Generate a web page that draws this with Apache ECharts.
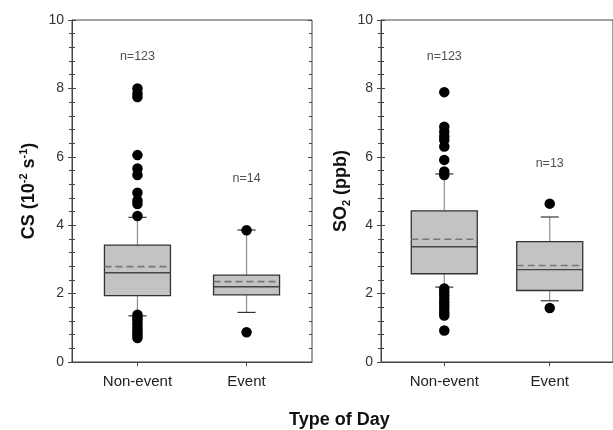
<!DOCTYPE html>
<html>
<head>
<meta charset="utf-8">
<script src="https://cdn.jsdelivr.net/npm/echarts@6.0.0/dist/echarts.min.js"></script>
<style>
  html, body { margin: 0; padding: 0; background: #fff; }
  #chart { width: 613px; height: 430px; }
</style>
</head>
<body>
<div id="chart"></div>
<script>
// categories
var categories = ['Non-event', 'Event']

// CS (10^-2 s^-1) box stats, per category
var csLow = [1.35, 1.45]
var csQ1 = [1.94, 1.96]
var csMedian = [2.61, 2.2]
var csQ3 = [3.42, 2.54]
var csHigh = [4.23, 3.86]
var csMean = [2.79, 2.35]
var csOutNonEvent = [8.0, 7.85, 7.75, 6.05, 5.66, 5.47, 4.95, 4.72, 4.62, 4.27,
  1.38, 1.3, 1.22, 1.13, 1.04, 0.95, 0.86, 0.78, 0.7]
var csOutEvent = [3.85, 0.87]
var csCount = [123, 14]
var csCountY = [8.92, 5.35]

// SO2 (ppb) box stats
var so2Low = [2.19, 1.79]
var so2Q1 = [2.58, 2.09]
var so2Median = [3.37, 2.7]
var so2Q3 = [4.42, 3.52]
var so2High = [5.5, 4.24]
var so2Mean = [3.59, 2.82]
var so2OutNonEvent = [7.89, 6.88, 6.73, 6.6, 6.49, 6.3, 5.91, 5.57, 5.47,
  2.15, 2.05, 1.95, 1.85, 1.75, 1.65, 1.55, 1.45, 1.36, 0.92]
var so2OutEvent = [4.63, 1.58]
var so2Count = [123, 13]
var so2CountY = [8.92, 5.79]

var yTicks = [0, 2, 4, 6, 8, 10]

var FONT = 'Liberation Sans'
var chart = echarts.init(document.getElementById('chart'))

function boxRows(low, q1, med, q3, high, mean) {
  return categories.map(function (c, i) {
    return [i + 1, low[i], q1[i], med[i], q3[i], high[i], mean[i]]
  })
}
function outlierRows(nonEvent, event) {
  var rows = []
  nonEvent.forEach(function (v) { rows.push([1, v]) })
  event.forEach(function (v) { rows.push([2, v]) })
  return rows
}
function countRows(counts, ys) {
  return counts.map(function (n, i) { return [i + 1, ys[i], n] })
}

function renderBox(params, api) {
  var x = api.value(0)
  var low = api.coord([x, api.value(1)])
  var q1 = api.coord([x, api.value(2)])
  var med = api.coord([x, api.value(3)])
  var q3 = api.coord([x, api.value(4)])
  var high = api.coord([x, api.value(5)])
  var mean = api.coord([x, api.value(6)])
  var cx = low[0]
  var hw = 33
  var cap = 9
  var whisker = { stroke: '#8c8c8c', lineWidth: 1.2 }
  var capStyle = { stroke: '#333', lineWidth: 1.2 }
  return {
    type: 'group',
    children: [
      { type: 'line', shape: { x1: cx, y1: high[1], x2: cx, y2: q3[1] }, style: whisker },
      { type: 'line', shape: { x1: cx, y1: q1[1], x2: cx, y2: low[1] }, style: whisker },
      { type: 'line', shape: { x1: cx - cap, y1: high[1], x2: cx + cap, y2: high[1] }, style: capStyle },
      { type: 'line', shape: { x1: cx - cap, y1: low[1], x2: cx + cap, y2: low[1] }, style: capStyle },
      {
        type: 'rect',
        shape: { x: cx - hw, y: q3[1], width: hw * 2, height: q1[1] - q3[1] },
        style: { fill: '#c3c3c3', stroke: '#333', lineWidth: 1.3 }
      },
      { type: 'line', shape: { x1: cx - hw, y1: med[1], x2: cx + hw, y2: med[1] },
        style: { stroke: '#444', lineWidth: 1.4 } },
      { type: 'line', shape: { x1: cx - hw, y1: mean[1], x2: cx + hw, y2: mean[1] },
        style: { stroke: '#777', lineWidth: 1.6, lineDash: [7, 4] } }
    ]
  }
}

function xAxisFor(gridIndex) {
  return {
    type: 'value', gridIndex: gridIndex, min: 0.4, max: 2.6,
    axisLine: { lineStyle: { color: '#444' } },
    axisTick: { show: true, customValues: [1, 2], length: 4, lineStyle: { color: '#444' } },
    axisLabel: {
      customValues: [1, 2], margin: 12, fontSize: 15, fontFamily: FONT, color: '#222',
      formatter: function (v) { return categories[Math.round(v) - 1] }
    },
    splitLine: { show: false }
  }
}

function yAxisFor(gridIndex, name, rich, nameGap) {
  return {
    type: 'value', gridIndex: gridIndex, min: 0, max: 10, interval: 2,
    name: name, nameLocation: 'middle', nameRotate: 90, nameGap: nameGap,
    nameTextStyle: { rich: rich },
    axisLine: { show: true, lineStyle: { color: '#444' } },
    axisTick: { show: true, length: 4, lineStyle: { color: '#444' } },
    minorTick: { show: true, splitNumber: 5, length: 3, lineStyle: { color: '#444' } },
    axisLabel: {
      margin: 8, fontSize: 14, fontFamily: FONT, color: '#333',
      customValues: yTicks
    },
    splitLine: { show: false },
    minorSplitLine: { show: false }
  }
}

function innerYAxis(gridIndex, position) {
  return {
    type: 'value', gridIndex: gridIndex, min: 0, max: 10, interval: 2, position: position,
    axisLine: { show: false },
    axisTick: { show: true, inside: true, length: 4, lineStyle: { color: '#444' } },
    minorTick: { show: true, splitNumber: 5, length: 3, lineStyle: { color: '#444' } },
    axisLabel: { show: false },
    splitLine: { show: false }
  }
}

var titleRich = {
  b: { fontSize: 18, fontWeight: 'bold', fontFamily: FONT, color: '#111', lineHeight: 22 },
  sup: { fontSize: 11, fontWeight: 'bold', fontFamily: FONT, color: '#111', verticalAlign: 'top', lineHeight: 22 },
  sub: { fontSize: 11, fontWeight: 'bold', fontFamily: FONT, color: '#111', verticalAlign: 'bottom', lineHeight: 20 }
}

function panelSeries(xi, yi, boxes, outliers, counts) {
  return [
    {
      type: 'scatter', xAxisIndex: xi, yAxisIndex: yi, data: outliers,
      symbolSize: 10.5, itemStyle: { color: '#000', opacity: 1 }, z: 3, silent: true
    },
    {
      type: 'custom', xAxisIndex: xi, yAxisIndex: yi, data: boxes,
      renderItem: renderBox, encode: { x: 0, y: [1, 2, 3, 4, 5, 6] }, z: 2, silent: true
    },
    {
      type: 'scatter', xAxisIndex: xi, yAxisIndex: yi, data: counts,
      symbolSize: 0, silent: true,
      label: {
        show: true, position: 'inside', fontSize: 12.5, fontFamily: FONT, color: '#222',
        formatter: function (p) { return 'n=' + p.value[2] }
      }
    }
  ]
}

var option = {
  backgroundColor: '#fff',
  animation: false,
  grid: [
    { left: 72, top: 20, width: 240, height: 342, show: true, borderColor: '#444', borderWidth: 1 },
    { left: 381, top: 20, width: 240, height: 342, show: true, borderColor: '#444', borderWidth: 1 }
  ],
  xAxis: [xAxisFor(0), xAxisFor(1)],
  yAxis: [
    yAxisFor(0, '{b|CS (10}{sup|-2}{b| s}{sup|-1}{b|)}', titleRich, 32),
    innerYAxis(0, 'left'),
    innerYAxis(0, 'right'),
    yAxisFor(1, '{b|SO}{sub|2}{b| (ppb)}', titleRich, 29),
    innerYAxis(1, 'left')
  ],
  graphic: [
    {
      type: 'text', left: 289, top: 411,
      style: { text: 'Type of Day', fontSize: 18, fontWeight: 'bold', fontFamily: FONT, fill: '#111' }
    }
  ],
  series: []
    .concat(panelSeries(0, 0,
      boxRows(csLow, csQ1, csMedian, csQ3, csHigh, csMean),
      outlierRows(csOutNonEvent, csOutEvent),
      countRows(csCount, csCountY)))
    .concat(panelSeries(1, 3,
      boxRows(so2Low, so2Q1, so2Median, so2Q3, so2High, so2Mean),
      outlierRows(so2OutNonEvent, so2OutEvent),
      countRows(so2Count, so2CountY)))
}

chart.setOption(option)
</script>
</body>
</html>
